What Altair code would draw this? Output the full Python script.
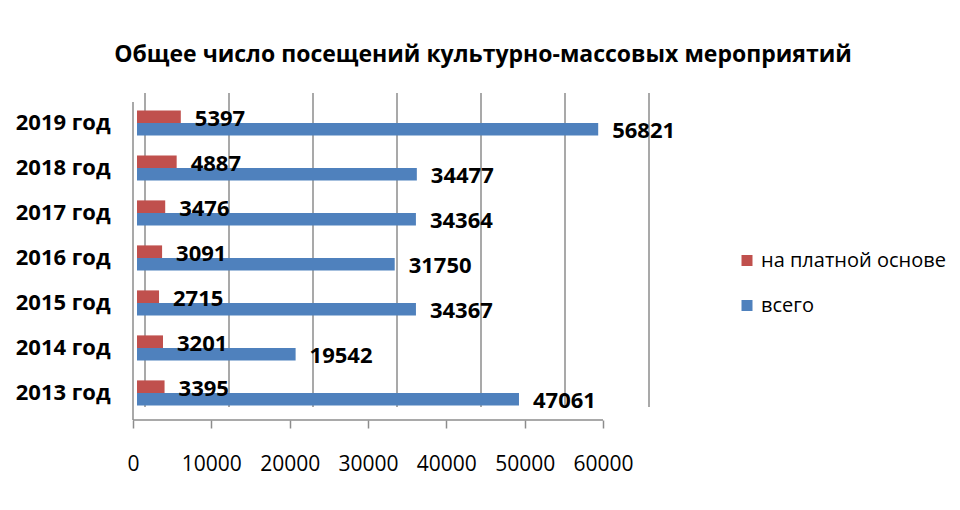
import altair as alt
import pandas as pd

years = ["2013 год", "2014 год", "2015 год", "2016 год", "2017 год\u00a0", "2018 год", "2019 год"]
total = [47061, 19542, 34367, 31750, 34364, 34477, 56821]
paid = [3395, 3201, 2715, 3091, 3476, 4887, 5397]
series_names = ["на платной основе", "всего"]
ticks = [0, 10000, 20000, 30000, 40000, 50000, 60000]
title = "Общее число посещений культурно-массовых мероприятий"

rows = []
for y, p, t in zip(years, paid, total):
    rows.append({"year": y, "series": series_names[0], "value": p})
    rows.append({"year": y, "series": series_names[1], "value": t})
df = pd.DataFrame(rows)
tick_df = pd.DataFrame({"t": ticks})
floor_df = pd.DataFrame({"start": [ticks[0]], "end": [ticks[-1]]})

year_order = years[::-1]
H = 315
W = 512
font = "Open Sans"
grid_color = "#8c8c8c"

bar_scale = alt.Scale(domain=[0, 60000], range=[0, 487], nice=False)
grid_scale = alt.Scale(domain=[0, 60000], range=[8, 512], nice=False)
front_scale = alt.Scale(domain=[0, 60000], range=[-4, 466], nice=False)

y_enc = alt.Y(
    "year:N",
    sort=year_order,
    scale=alt.Scale(paddingInner=0.44, paddingOuter=0.22),
    axis=alt.Axis(title=None, ticks=False, domain=False, labelPadding=27,
                  labelFont=font, labelFontSize=22, labelFontWeight="bold",
                  labelColor="black"),
)
yoff = alt.YOffset("series:N", sort=series_names, scale=alt.Scale(domain=series_names))

grid = alt.Chart(tick_df).mark_rule(color=grid_color, strokeWidth=1.5).encode(
    x=alt.X("t:Q", scale=grid_scale, axis=None),
    y=alt.value(-7.5),
    y2=alt.value(H - 8.5),
)

left_edge = alt.Chart(floor_df).mark_rule(color=grid_color, strokeWidth=1.5).encode(
    x=alt.X("start:Q", scale=front_scale, axis=None),
    y=alt.value(1.5),
    y2=alt.value(H + 4.5),
)

floor = alt.Chart(floor_df).mark_rule(color=grid_color, strokeWidth=1.5).encode(
    x=alt.X("start:Q", scale=front_scale,
            axis=alt.Axis(values=ticks, orient="bottom", title=None, grid=False,
                          domain=False, tickSize=8, tickColor=grid_color, tickWidth=1.5,
                          offset=4.5, labelPadding=25, labelFont=font, labelFontSize=21,
                          labelColor="black", format="d", labelFlush=False,
                          labelOverlap=False, labelBound=False)),
    x2="end:Q",
    y=alt.value(H + 4.5),
)

bars = alt.Chart(df).mark_bar().encode(
    x=alt.X("value:Q", scale=bar_scale, axis=None),
    y=y_enc,
    yOffset=yoff,
    color=alt.Color(
        "series:N",
        scale=alt.Scale(domain=series_names, range=["#C0504D", "#4F81BD"]),
        legend=alt.Legend(title=None, orient="none", legendX=600, legendY=150,
                          labelFont=font, labelFontSize=20, labelColor="black",
                          labelLimit=0, symbolType="square", symbolSize=121,
                          rowPadding=25, symbolStrokeWidth=0),
    ),
)

labels = alt.Chart(df).mark_text(
    align="left", baseline="middle", dx=14, dy=2, font=font, fontSize=22,
    fontWeight="bold", color="black"
).encode(
    x=alt.X("value:Q", scale=bar_scale, axis=None),
    y=alt.Y("year:N", sort=year_order),
    yOffset=yoff,
    text=alt.Text("value:Q", format="d"),
)

chart = alt.layer(grid, left_edge, floor, bars, labels).resolve_scale(
    x="independent"
).properties(
    width=W,
    height=H,
    padding={"left": 129, "top": 92.5, "right": 303, "bottom": 80},
    autosize="none",
    title=alt.TitleParams(title, font=font, fontSize=23, fontWeight="bold",
                          color="black", dx=90, offset=25, anchor="middle"),
).configure_view(stroke=None)

chart.save("out.html", embed_options={"renderer": "svg", "actions": False})
